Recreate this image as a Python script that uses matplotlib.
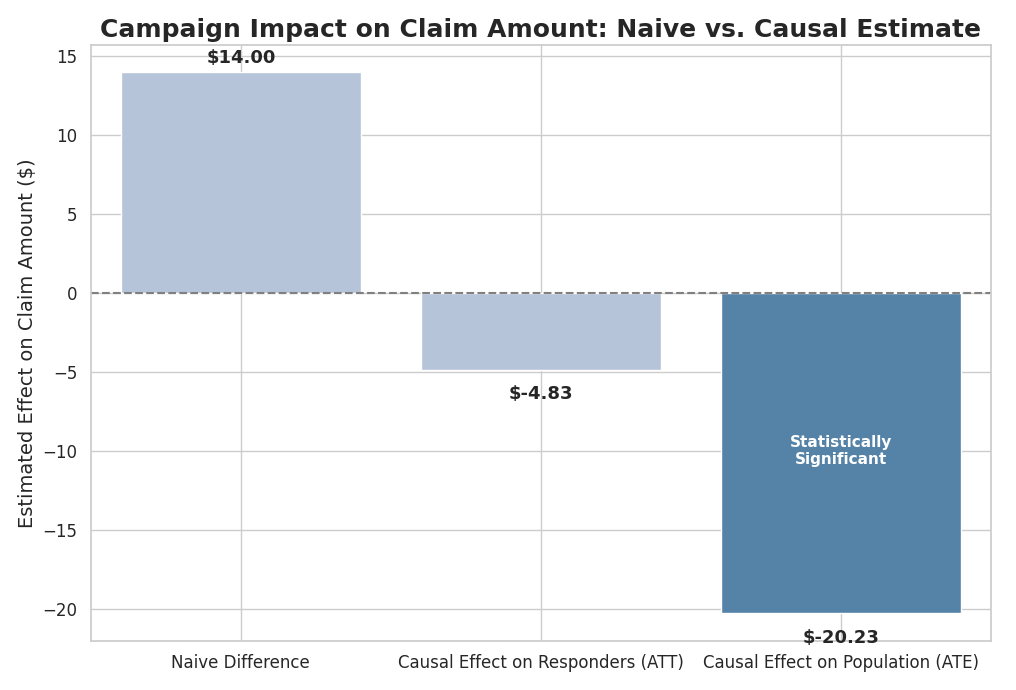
import matplotlib.pyplot as plt
import seaborn as sns

sns.set_theme(style="whitegrid")

categories = ["Naive Difference", "Causal Effect on Responders (ATT)", "Causal Effect on Population (ATE)"]
effects = [14.00, -4.83, -20.23]
colors = ["#b5c4d8", "#b5c4d8", "#5582a7"]

fig, ax = plt.subplots(figsize=(10.16, 6.9), dpi=100)
x = range(len(categories))
ax.bar(x, effects, color=colors, width=0.8)
ax.axhline(0, color="gray", linestyle="--", linewidth=1.5)

for i, v in enumerate(effects):
    if v >= 0:
        ax.text(i, v + 0.3, f"${v:.2f}", ha="center", va="bottom", fontsize=13, fontweight="bold")
    else:
        ax.text(i, v - 1.0, f"${v:.2f}", ha="center", va="top", fontsize=13, fontweight="bold")

ax.text(2, -10.0, "Statistically\nSignificant", ha="center", va="center",
        color="white", fontsize=11, fontweight="bold")

ax.set_xticks(list(x))
ax.set_xticklabels(categories, fontsize=12)
ax.tick_params(axis="y", labelsize=12)
ax.set_xlim(-0.5, 2.5)
ax.set_ylim(-22, 15.7)
ax.set_ylabel("Estimated Effect on Claim Amount ($)", fontsize=14)
ax.set_title("Campaign Impact on Claim Amount: Naive vs. Causal Estimate", fontsize=18, fontweight="bold")

fig.tight_layout()
fig.savefig("out.png")
